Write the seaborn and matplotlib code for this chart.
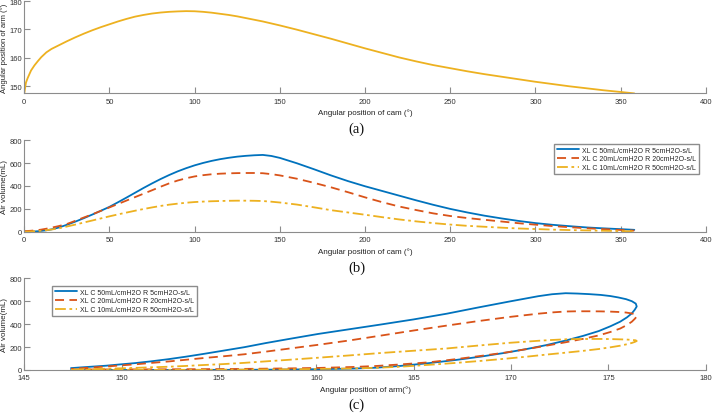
import pandas as pd
import matplotlib
matplotlib.use("Agg")
import matplotlib.pyplot as plt
import seaborn as sns

# cam angle grid (deg) shared by all series
cam = [0, 1, 2, 4, 6, 8, 10, 13, 16, 20,
       25, 30, 35, 40, 45, 50, 55, 60, 65, 70, 75, 80, 85, 90, 95, 100,
       105, 110, 115, 120, 125, 130, 135, 140, 145, 150,
       160, 170, 180, 190, 200, 210, 220, 230, 240, 250, 260, 270, 280,
       290, 300, 310, 320, 330, 340, 350, 358]

# angular position of arm (deg)
arm = [147.4, 151.2, 152.8, 155.5, 157.3, 158.8, 160.2, 161.9, 163.1, 164.3,
       165.8, 167.2, 168.5, 169.7, 170.8, 171.8, 172.8, 173.7, 174.5, 175.1,
       175.6, 175.95, 176.2, 176.35, 176.45, 176.4,
       176.2, 175.9, 175.5, 175.1, 174.6, 174.0, 173.4, 172.8, 172.1, 171.4,
       169.9, 168.3, 166.7, 165.0, 163.3, 161.7, 160.1, 158.7, 157.4, 156.3,
       155.2, 154.2, 153.3, 152.4, 151.5, 150.7, 149.9, 149.2, 148.5, 147.9, 147.4]

# air volume (mL)
vol_50_5 = [0, 0, 0, 1, 2, 4, 7, 12, 20, 35,
            60, 88, 118, 150, 183, 217, 257, 298, 340, 382, 422, 460, 495, 527, 555, 580,
            601, 619, 634, 646, 656, 663, 668, 671, 662, 645,
            598, 546, 492, 442, 397, 356, 315, 274, 235, 199, 168, 140, 116,
            94, 75, 60, 48, 37, 29, 22, 16]
vol_20_20 = [4, 5, 6, 8, 11, 14, 18, 26, 35, 48,
             67, 95, 124, 152, 182, 212, 242, 272, 302, 332, 362, 393, 422, 447, 467, 483,
             494, 502, 507, 510, 512, 513, 513, 511, 503, 492,
             463, 427, 388, 345, 300, 258, 220, 189, 160, 137, 119, 104, 89,
             74, 61, 49, 39, 30, 22, 15, 9]
vol_10_50 = [0, 0, 1, 2, 4, 6, 9, 13, 19, 28,
             45, 62, 80, 98, 116, 134, 151, 167, 183, 198, 212, 225, 236, 245, 253, 259,
             263, 266, 268, 270, 271, 271, 270, 268, 262, 255,
             237, 213, 188, 168, 148, 127, 107, 90, 75, 62, 51, 43, 35,
             28, 23, 18, 14, 11, 8, 5, 3]

series_names = ["XL C 50mL/cmH2O R 5cmH2O-s/L",
                "XL C 20mL/cmH2O R 20cmH2O-s/L",
                "XL C 10mL/cmH2O R 50cmH2O-s/L"]

frames = []
for name, vol in zip(series_names, [vol_50_5, vol_20_20, vol_10_50]):
    frames.append(pd.DataFrame({"cam": cam, "arm": arm, "vol": vol, "series": name}))
df = pd.concat(frames, ignore_index=True)

colors = ["#0072BD", "#D95319", "#EDB120"]
dashes = ["", (5, 3), (6, 2, 1.5, 2)]

sns.set_style("ticks")
plt.rcParams["font.family"] = ["Liberation Sans", "DejaVu Sans"]
plt.rcParams.update({
    "axes.edgecolor": "#8c8c8c",
    "axes.linewidth": 0.8,
    "xtick.color": "#8c8c8c",
    "ytick.color": "#8c8c8c",
    "xtick.labelcolor": "#333333",
    "ytick.labelcolor": "#333333",
    "xtick.direction": "in",
    "ytick.direction": "in",
    "xtick.major.size": 4.5,
    "ytick.major.size": 4.5,
    "xtick.labelsize": 5.5,
    "ytick.labelsize": 5.5,
    "axes.labelsize": 5.8,
    "axes.labelcolor": "#222222",
})

fig = plt.figure(figsize=(7.13, 4.14), dpi=100)
ax_a = fig.add_axes([0.034, 0.772, 0.956, 0.223])
ax_b = fig.add_axes([0.034, 0.438, 0.956, 0.221])
ax_c = fig.add_axes([0.034, 0.104, 0.956, 0.221])

legend_kw = dict(title=None, fontsize=5, frameon=True, fancybox=False,
                 edgecolor="#8c8c8c", framealpha=1, handlelength=3.2,
                 handletextpad=0.5, borderpad=0.35, labelspacing=0.25,
                 borderaxespad=0)

# (a) arm vs cam
sns.lineplot(x=cam, y=arm, ax=ax_a, color="#EDB120", lw=1.3)
ax_a.set_xlim(0, 400)
ax_a.set_ylim(147.4, 180)
ax_a.set_xticks(range(0, 401, 50))
ax_a.set_yticks([150, 160, 170, 180])
ax_a.set_xlabel("Angular position of cam (°)", labelpad=3)
ax_a.set_ylabel("Angular position of arm (°)", fontsize=5.5)

# (b) volume vs cam
sns.lineplot(data=df, x="cam", y="vol", hue="series", style="series",
             palette=colors, dashes=dashes, lw=1.3, ax=ax_b,
             estimator=None, sort=False)
ax_b.set_xlim(0, 400)
ax_b.set_ylim(0, 800)
ax_b.set_xticks(range(0, 401, 50))
ax_b.set_yticks(range(0, 801, 200))
ax_b.set_xlabel("Angular position of cam (°)", labelpad=3)
ax_b.set_ylabel("Air volume(mL)")
ax_b.legend(loc="upper right", bbox_to_anchor=(0.99, 0.955), **legend_kw)

# (c) volume vs arm
sns.lineplot(data=df, x="arm", y="vol", hue="series", style="series",
             palette=colors, dashes=dashes, lw=1.3, ax=ax_c,
             estimator=None, sort=False)
ax_c.set_xlim(145, 180)
ax_c.set_ylim(0, 800)
ax_c.set_xticks(range(145, 181, 5))
ax_c.set_yticks(range(0, 801, 200))
ax_c.set_xlabel("Angular position of arm(°)", labelpad=3)
ax_c.set_ylabel("Air volume(mL)")
ax_c.legend(loc="upper left", bbox_to_anchor=(0.041, 0.915), **legend_kw)

for ax in (ax_a, ax_b, ax_c):
    sns.despine(ax=ax)
    ax.tick_params(axis="x", pad=3)
    ax.tick_params(axis="y", pad=1.5)
    ax.yaxis.set_label_coords(-0.0235, 0.5)

for y, lab in [(0.688, "(a)"), (0.353, "(b)"), (0.022, "(c)")]:
    fig.text(0.5, y, lab, ha="center", va="center",
             family="Liberation Serif", fontsize=10.5, color="#111111")

fig.savefig("out.png", dpi=100)
